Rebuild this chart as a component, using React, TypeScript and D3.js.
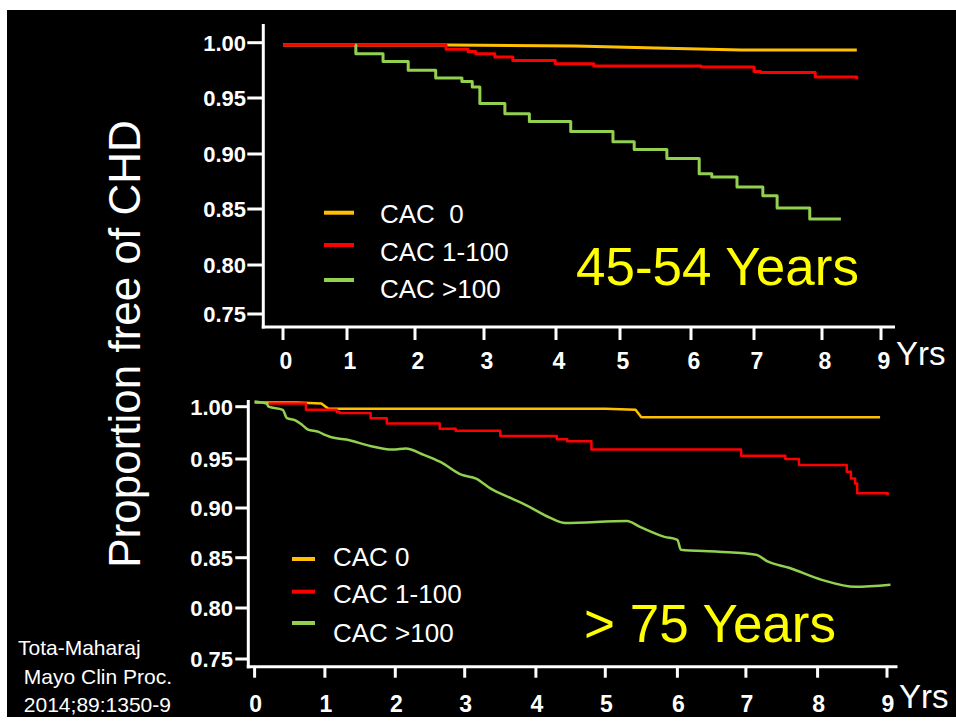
import React from "react";
import * as d3 from "d3";

// ---------- data ----------
const years = [0, 1, 2, 3, 4, 5, 6, 7, 8, 9];
const yTicks = [0.75, 0.8, 0.85, 0.9, 0.95, 1.0];
const seriesNames = ["CAC 0", "CAC 1-100", "CAC >100"];
const topLegendLabels = ["CAC  0", "CAC 1-100", "CAC >100"];
const topTitle = "45-54 Years";
const bottomTitle = "> 75 Years";
const yTitle = "Proportion free of CHD";
const xUnit = "Yrs";
const citation = ["Tota-Maharaj", " Mayo Clin Proc.", " 2014;89:1350-9"];

// 45-54 years (years, proportion free)
const topCac0: [number, number][] = [
  [0, 0.998], [2.5, 0.998], [4.3, 0.997], [5.65, 0.995], [6.8, 0.9935], [8.59, 0.9935],
];
const topCac1to100: [number, number][] = [
  [0, 0.998], [2.45, 0.994], [2.77, 0.992], [2.88, 0.99], [3.15, 0.987], [3.4, 0.984],
  [3.99, 0.981], [4.59, 0.979], [6.16, 0.978], [7.0, 0.974], [7.1, 0.973], [7.9, 0.969],
  [8.59, 0.967],
];
const topCacOver100: [number, number][] = [
  [1.12, 0.998], [1.13, 0.99], [1.53, 0.983], [1.9, 0.975], [2.3, 0.968], [2.68, 0.965],
  [2.83, 0.96], [2.94, 0.945], [3.29, 0.936], [3.63, 0.929], [4.23, 0.92], [4.89, 0.911],
  [5.2, 0.904], [5.66, 0.896], [6.13, 0.882], [6.33, 0.879], [6.73, 0.87], [7.13, 0.862],
  [7.34, 0.851], [7.82, 0.841], [8.32, 0.841],
];

// > 75 years
const botCac0: [number, number][] = [
  [0, 1.004], [0.6, 1.004], [0.95, 1.003], [1.05, 0.998], [5.0, 0.998], [5.42, 0.997],
  [5.5, 0.99], [8.9, 0.99],
];
const botCac1to100: [number, number][] = [
  [0.2, 1.003], [0.73, 0.997], [1.17, 0.995], [1.21, 0.994], [1.65, 0.989], [1.88, 0.984],
  [2.64, 0.979], [2.87, 0.977], [3.5, 0.972], [4.3, 0.969], [4.45, 0.967], [4.8, 0.959],
  [6.93, 0.953], [7.55, 0.95], [7.74, 0.944], [8.42, 0.937], [8.48, 0.93], [8.54, 0.925],
  [8.57, 0.915], [9.01, 0.913],
];
const botCacOver100: [number, number][] = [
  [0, 1.005], [0.17, 1.003], [0.2, 1.0], [0.4, 0.997], [0.46, 0.989], [0.58, 0.987],
  [0.67, 0.983], [0.76, 0.978], [0.91, 0.976], [1.0, 0.973], [1.08, 0.971], [1.35, 0.968],
  [1.61, 0.963], [1.97, 0.959], [2.15, 0.96], [2.41, 0.954], [2.65, 0.947], [2.95, 0.934],
  [3.16, 0.93], [3.36, 0.92], [3.65, 0.91], [3.86, 0.903], [4.21, 0.89], [4.42, 0.885],
  [5.3, 0.887], [5.48, 0.881], [5.82, 0.871], [6.0, 0.868], [6.05, 0.858], [6.6, 0.856],
  [7.14, 0.853], [7.31, 0.846], [7.6, 0.84], [8.06, 0.828], [8.54, 0.821], [9.05, 0.823],
];

const COLORS = ["#FFC000", "#FF0000", "#92D050"];
const FONT = "'Liberation Sans', Arial, sans-serif";

type Panel = {
  x: d3.ScaleLinear<number, number>;
  y: d3.ScaleLinear<number, number>;
  series: [number, number][][];
  curves: d3.CurveFactory[];
  strokeW: number;
  axisX: number;
  axisTop: number;
  axisY: number;
  axisXEnd: number;
  tickLenY: number;
  yLabelRight: number;
  xTickLen: number;
  xLabelBaseline: number;
  xLabelDx: number;
  yrsX: number;
  yrsBaseline: number;
  legend: { lineX0: number; lineX1: number; textX: number; lineYs: number[]; baselines: number[]; labels: string[] };
  title: string;
  titleX: number;
  titleBaseline: number;
};

function ChartPanel({ p }: { p: Panel }) {
  const lines = p.series.map((s, i) =>
    d3
      .line<[number, number]>()
      .x((d) => p.x(d[0]))
      .y((d) => p.y(d[1]))
      .curve(p.curves[i])(s) as string
  );
  return (
    <g>
      <line x1={p.axisX} x2={p.axisX} y1={p.axisTop} y2={p.axisY + 1.5} stroke="#fff" strokeWidth={3} />
      <line x1={p.axisX - 1.5} x2={p.axisXEnd} y1={p.axisY} y2={p.axisY} stroke="#fff" strokeWidth={3} />
      {yTicks.map((t) => (
        <g key={"y" + t}>
          <line x1={p.axisX - p.tickLenY} x2={p.axisX} y1={p.y(t)} y2={p.y(t)} stroke="#fff" strokeWidth={3} />
          <text
            x={p.yLabelRight}
            y={p.y(t) + 8}
            textAnchor="end"
            fill="#fff"
            fontFamily={FONT}
            fontWeight="bold"
            fontSize={22}
          >
            {t.toFixed(2)}
          </text>
        </g>
      ))}
      {years.map((t) => (
        <g key={"x" + t}>
          <line x1={p.x(t)} x2={p.x(t)} y1={p.axisY} y2={p.axisY + p.xTickLen} stroke="#fff" strokeWidth={3} />
          <text
            x={p.x(t) + p.xLabelDx}
            y={p.xLabelBaseline}
            textAnchor="middle"
            fill="#fff"
            fontFamily={FONT}
            fontWeight="bold"
            fontSize={23}
          >
            {t}
          </text>
        </g>
      ))}
      <text x={p.yrsX} y={p.yrsBaseline} fill="#fff" fontFamily={FONT} fontSize={33}>
        {xUnit}
      </text>
      {lines.map((d, i) => (
        <path key={i} d={d} fill="none" stroke={COLORS[i]} strokeWidth={p.strokeW} strokeLinejoin="round" />
      ))}
      {p.legend.labels.map((lab, i) => (
        <g key={"l" + i}>
          <line
            x1={p.legend.lineX0}
            x2={p.legend.lineX1}
            y1={p.legend.lineYs[i]}
            y2={p.legend.lineYs[i]}
            stroke={COLORS[i]}
            strokeWidth={4}
          />
          <text
            x={p.legend.textX}
            y={p.legend.baselines[i]}
            fill="#fff"
            fontFamily={FONT}
            fontSize={26}
            style={{ whiteSpace: "pre" }}
          >
            {lab}
          </text>
        </g>
      ))}
      <text x={p.titleX} y={p.titleBaseline} fill="#FFFF00" fontFamily={FONT} fontSize={53}>
        {p.title}
      </text>
    </g>
  );
}

export default function App() {
  const topX = d3.scaleLinear().domain(years).range([283, 347, 415, 484, 556, 620, 691, 754, 822, 881]);
  const topY = d3.scaleLinear().domain(yTicks).range([314, 265, 209, 154, 98, 42.7]);
  const botX = d3
    .scaleLinear()
    .domain(years)
    .range([254.6, 324.9, 395.3, 464.7, 535.9, 605.3, 677.4, 745.9, 817.6, 887]);
  const botY = d3.scaleLinear().domain(yTicks).range([659, 608, 557.7, 508, 459, 406.7]);

  const top: Panel = {
    x: topX,
    y: topY,
    series: [topCac0, topCac1to100, topCacOver100],
    curves: [d3.curveLinear, d3.curveStepAfter, d3.curveStepAfter],
    strokeW: 3,
    axisX: 263.3,
    axisTop: 24,
    axisY: 327,
    axisXEnd: 895,
    tickLenY: 16,
    yLabelRight: 246,
    xTickLen: 13,
    xLabelBaseline: 369,
    xLabelDx: 3,
    yrsX: 896,
    yrsBaseline: 365,
    legend: {
      lineX0: 324,
      lineX1: 354,
      textX: 380,
      lineYs: [212.7, 245, 280],
      baselines: [223, 260.7, 298],
      labels: topLegendLabels,
    },
    title: topTitle,
    titleX: 576,
    titleBaseline: 285,
  };

  const bottom: Panel = {
    x: botX,
    y: botY,
    series: [botCac0, botCac1to100, botCacOver100],
    curves: [d3.curveLinear, d3.curveStepAfter, d3.curveMonotoneX],
    strokeW: 2.5,
    axisX: 248.3,
    axisTop: 400,
    axisY: 666.7,
    axisXEnd: 897.5,
    tickLenY: 13,
    yLabelRight: 233,
    xTickLen: 11,
    xLabelBaseline: 712,
    xLabelDx: 1,
    yrsX: 899,
    yrsBaseline: 708,
    legend: {
      lineX0: 292,
      lineX1: 315,
      textX: 333,
      lineYs: [559, 591.7, 623],
      baselines: [565.7, 603.3, 641.7],
      labels: seriesNames,
    },
    title: bottomTitle,
    titleX: 584,
    titleBaseline: 641.7,
  };

  return (
    <svg
      width={956}
      height={726}
      style={{ position: "absolute", left: 0, top: 0, display: "block" }}
      xmlns="http://www.w3.org/2000/svg"
    >
      <rect x={0} y={0} width={956} height={726} fill="#fff" />
      <rect x={7} y={10} width={949} height={707} fill="#000" />
      <ChartPanel p={top} />
      <ChartPanel p={bottom} />
      <text
        transform="translate(140,344) rotate(-90)"
        textAnchor="middle"
        fill="#fff"
        fontFamily={FONT}
        fontSize={44}
      >
        {yTitle}
      </text>
      {citation.map((c, i) => (
        <text
          key={i}
          x={18}
          y={655 + i * 28.5}
          fill="#fff"
          fontFamily={FONT}
          fontSize={21}
          style={{ whiteSpace: "pre" }}
        >
          {c}
        </text>
      ))}
    </svg>
  );
}
